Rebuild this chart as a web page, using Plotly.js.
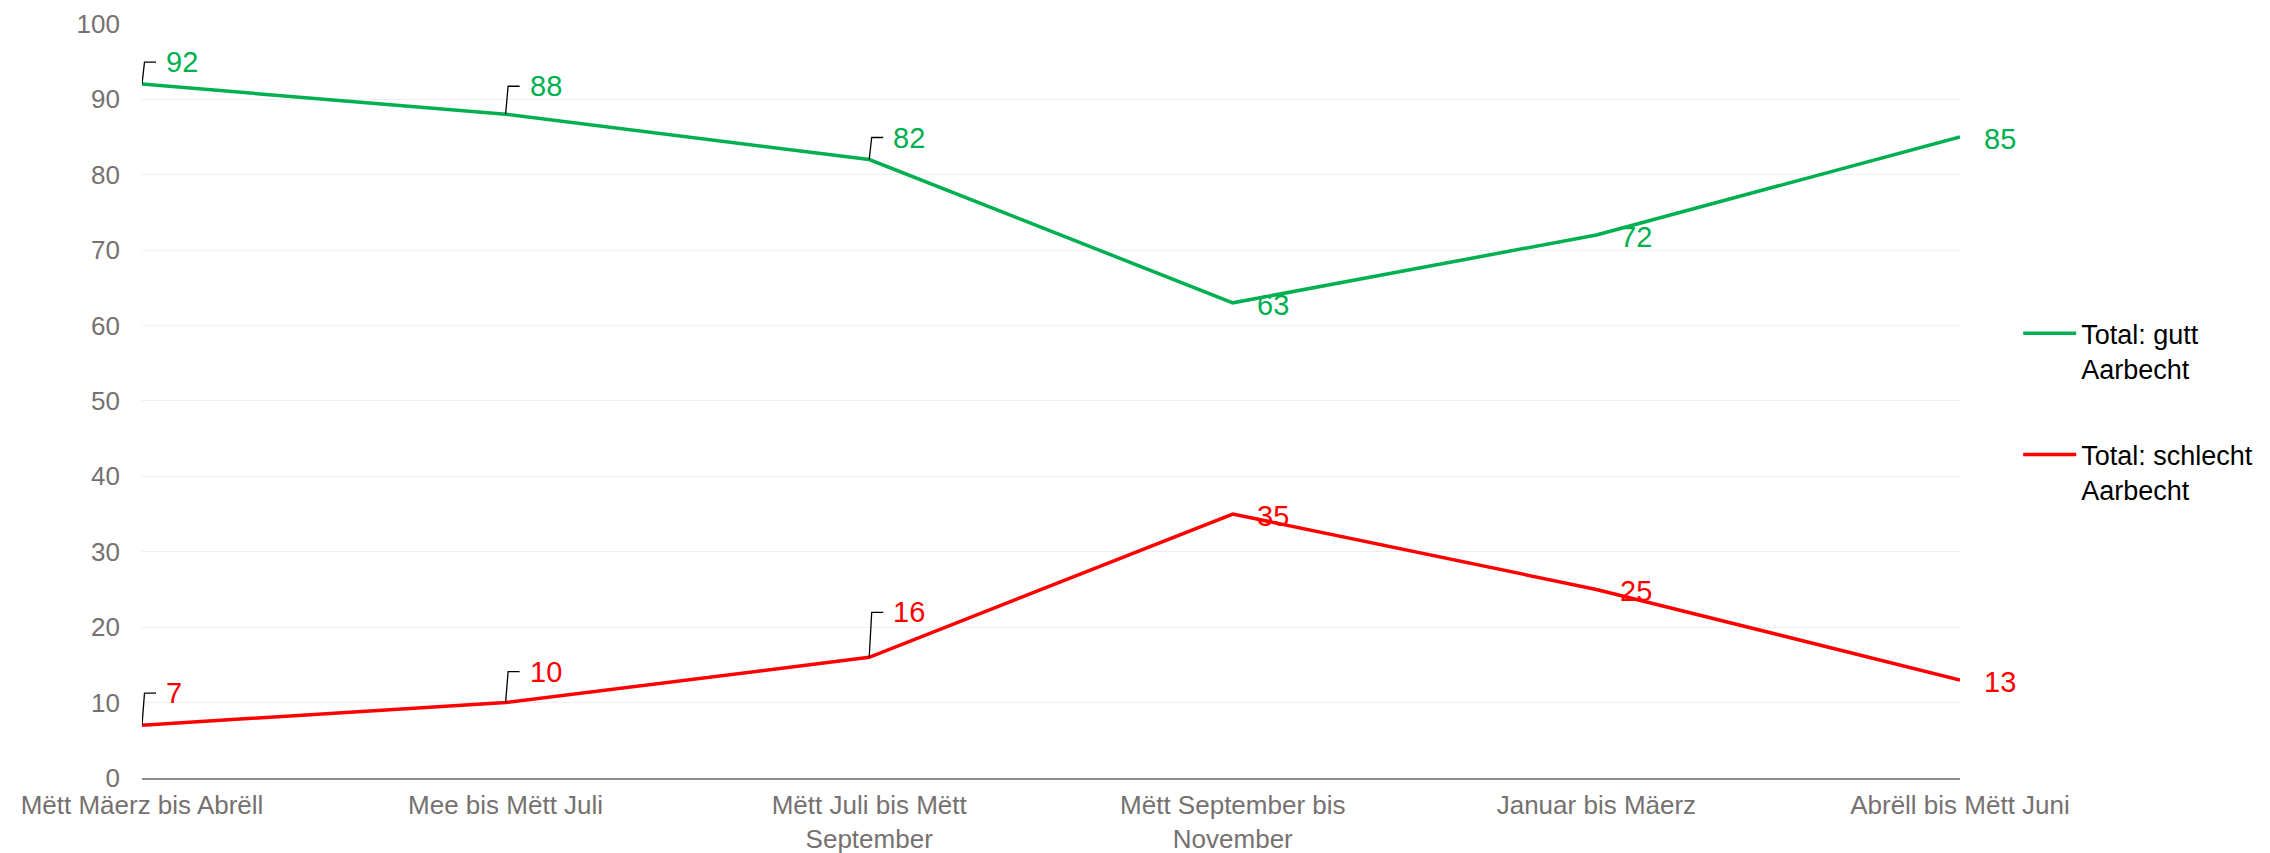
<!DOCTYPE html>
<html>
<head>
<meta charset="utf-8">
<script src="https://cdn.plot.ly/plotly-3.0.1.min.js"></script>
<style>html,body{margin:0;padding:0;background:#fff;}#chart{width:2270px;height:853px;}</style>
</head>
<body>
<div id="chart"></div>
<script>
const categories = ['Mëtt Mäerz bis Abrëll', 'Mee bis Mëtt Juli', 'Mëtt Juli bis Mëtt<br>September', 'Mëtt September bis<br>November', 'Januar bis Mäerz', 'Abrëll bis Mëtt Juni'];
const seriesNames = ['Total: gutt<br>Aarbecht', 'Total: schlecht<br>Aarbecht'];
const gutt = [92, 88, 82, 63, 72, 85];
const schlecht = [7, 10, 16, 35, 25, 13];
const yTicks = [0, 10, 20, 30, 40, 50, 60, 70, 80, 90, 100];

// label placement (pixel offsets above the point; 0 = no leader line)
const labelLift = [[22, 28, 22, 0, 0, 0], [32, 31, 45, 0, 0, 0]];

const colors = ['#00B050', '#FF0000'];
const series = [gutt, schlecht];
const FONT = '"Liberation Sans", Arial, sans-serif';

const traces = series.map((vals, s) => ({
  type: 'scatter', mode: 'lines',
  x: categories.map((c, i) => i), y: vals,
  name: seriesNames[s],
  legendgroup: 'g' + s,
  line: {color: colors[s], width: 3.5},
  hoverinfo: 'skip'
}));

const annotations = [];
const shapes = [];
series.forEach((vals, s) => {
  vals.forEach((v, i) => {
    const lift = labelLift[s][i];
    annotations.push({
      x: i, y: v, xref: 'x', yref: 'y', text: String(v), showarrow: false,
      xanchor: 'left', yanchor: 'middle', xshift: 22, yshift: lift ? lift : -2,
      font: {family: FONT, size: 29, color: colors[s]}
    });
    if (lift) {
      shapes.push({
        type: 'path', xref: 'x', yref: 'y', xsizemode: 'pixel', ysizemode: 'pixel',
        xanchor: i, yanchor: v, path: 'M0,0L2.5,' + lift + 'L14,' + lift,
        line: {color: '#000000', width: 1.3}
      });
    }
  });
});

const layout = {
  width: 2270, height: 853, autosize: false,
  margin: {l: 142, r: 310, t: 23, b: 75, pad: 0},
  paper_bgcolor: '#ffffff', plot_bgcolor: '#ffffff',
  font: {family: FONT, color: '#767171'},
  showlegend: true,
  legend: {
    x: 1.032, xanchor: 'left', y: 0.621, yanchor: 'top',
    font: {family: FONT, size: 27, color: '#000000'},
    valign: 'top', traceorder: 'grouped', tracegroupgap: 48,
    itemwidth: 53, bgcolor: 'rgba(0,0,0,0)'
  },
  xaxis: {
    type: 'linear', range: [0, categories.length - 1],
    tickvals: categories.map((c, i) => i), ticktext: categories,
    showgrid: false, zeroline: false, showline: true, linecolor: '#8c8c8c', linewidth: 1.5,
    ticks: '', tickfont: {family: FONT, size: 26, color: '#767171'},
    ticklabelstandoff: 3, fixedrange: true
  },
  yaxis: {
    range: [0, 100.1], tickvals: yTicks, ticktext: yTicks.map(String),
    showgrid: true, gridcolor: '#efefef', gridwidth: 1, zeroline: false, showline: false,
    ticks: '', tickfont: {family: FONT, size: 26, color: '#767171'},
    ticklabelstandoff: 21, fixedrange: true
  },
  annotations: annotations,
  shapes: shapes
};

Plotly.newPlot('chart', traces, layout, {displayModeBar: false, staticPlot: true});
</script>
</body>
</html>
